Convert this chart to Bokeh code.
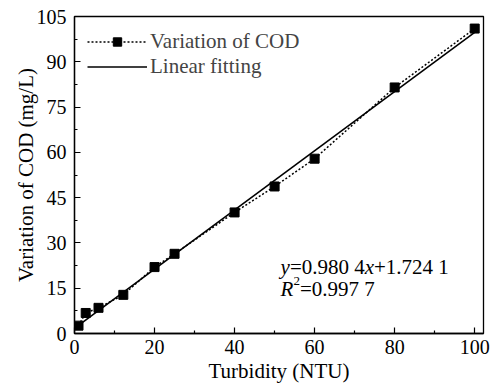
from bokeh.plotting import figure
from bokeh.models import Range1d, Legend, LegendItem, Label, FixedTicker
from bokeh.embed import file_html
from bokeh.resources import INLINE

# data
turbidity = [1, 2.8, 6, 12.2, 20, 25, 40, 50, 60, 80, 100]
cod = [2.6, 6.8, 8.5, 12.8, 22.0, 26.4, 40.1, 48.7, 57.9, 81.5, 101.0]
slope, intercept = 0.9804, 1.7241
fit_x = [1, 100]
fit_y = [slope * v + intercept for v in fit_x]
x_ticks = [0, 20, 40, 60, 80, 100]
y_ticks = [0, 15, 30, 45, 60, 75, 90, 105]

FONT = "'Liberation Serif', 'Times New Roman', serif"

p = figure(width=495, height=385, output_backend="svg", toolbar_location=None,
           x_range=Range1d(0, 102.2), y_range=Range1d(0, 105),
           min_border_left=74, min_border_right=12, min_border_top=16, min_border_bottom=52)
p.grid.visible = False
p.outline_line_color = "black"
p.outline_line_width = 1.3
p.background_fill_color = "white"

for ax in (p.xaxis[0], p.yaxis[0]):
    ax.axis_line_width = 1.3
    ax.axis_line_color = "black"
    ax.major_tick_in = 6
    ax.major_tick_out = 0
    ax.minor_tick_in = 3
    ax.minor_tick_out = 0
    ax.major_tick_line_color = "black"
    ax.minor_tick_line_color = "black"
    ax.major_tick_line_width = 1.2
    ax.minor_tick_line_width = 1.2
    ax.major_label_text_font = FONT
    ax.major_label_text_font_size = "20px"
    ax.major_label_text_color = "black"
    ax.axis_label_text_font = FONT
    ax.axis_label_text_font_size = "21px"
    ax.axis_label_text_font_style = "normal"
    ax.axis_label_text_color = "black"

p.xaxis.ticker = FixedTicker(ticks=x_ticks, minor_ticks=[10, 30, 50, 70, 90])
p.yaxis.ticker = FixedTicker(ticks=y_ticks, minor_ticks=[7.5 + 15 * i for i in range(7)])
p.xaxis.axis_label = "Turbidity (NTU)"
p.yaxis.axis_label = "Variation of COD (mg/L)"
p.xaxis.major_label_standoff = 6
p.yaxis.major_label_standoff = 8
p.xaxis.axis_label_standoff = 2
p.yaxis.axis_label_standoff = -4

dl = p.line(turbidity, cod, line_color="black", line_width=1.5, line_dash="2 2")
sc = p.scatter(turbidity, cod, marker="square", size=9, fill_color="black", line_color="black")
fl = p.line(fit_x, fit_y, line_color="black", line_width=1.6)

legend = Legend(items=[LegendItem(label="Variation of COD", renderers=[dl, sc]),
                       LegendItem(label="Linear fitting", renderers=[fl])],
                location="top_left", border_line_color=None, background_fill_alpha=0,
                label_text_font=FONT, label_text_font_size="21px",
                label_text_line_height=1.0,
                glyph_width=60, glyph_height=21, label_height=21, spacing=0,
                label_standoff=3, margin=13, padding=10)
p.add_layout(legend)

fs = "21px"
def lab(text, dx, y, style="normal", size=fs, dy=0):
    p.add_layout(Label(x=51.5, y=y, x_offset=dx, y_offset=dy, text=text, text_font=FONT,
                       text_font_size=size, text_font_style=style, text_color="black",
                       text_baseline="alphabetic"))

y1, y2 = 21.9, 14.6
lab("y", 0, y1, "italic")
lab("=0.980 4", 9.3, y1)
lab("x", 84.1, y1, "italic")
lab("+1.724 1", 93.4, y1)
lab("R", 0, y2, "italic")
lab("2", 12.8, y2, size="13px", dy=8)
lab("=0.997 7", 19.3, y2)

open("out.html", "w").write(file_html(p, INLINE))
